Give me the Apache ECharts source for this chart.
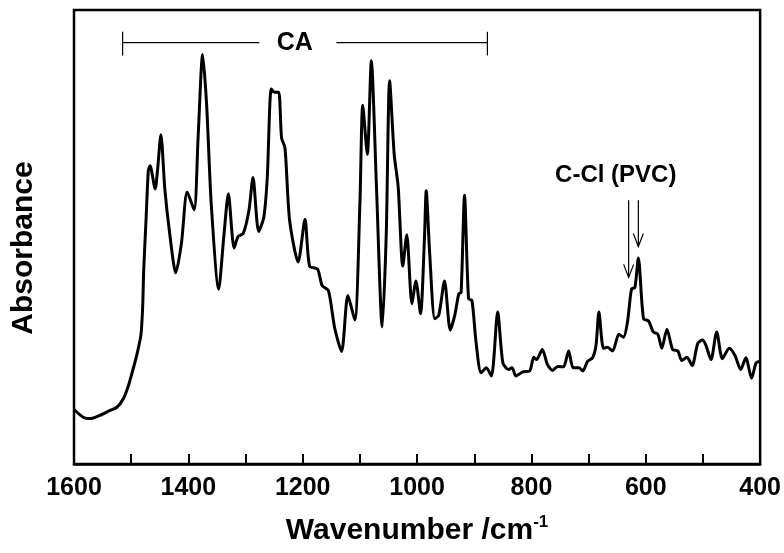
<!DOCTYPE html>
<html>
<head>
<meta charset="utf-8">
<script src="https://cdn.jsdelivr.net/npm/echarts@6/dist/echarts.min.js"></script>
<style>
  html, body { margin: 0; padding: 0; background: #fff; }
  #chart { width: 784px; height: 553px; }
</style>
</head>
<body>
<div id="chart"></div>
<script>
// FTIR spectrum: wavenumber (cm-1) and absorbance (arbitrary units)
const wavenumbers = [
  1600, 1584, 1572, 1555, 1537, 1525, 1514, 1505, 1496, 1490, 1483, 1480, 1478, 1474, 1470, 1467,
  1458, 1454, 1448, 1441, 1432, 1422, 1412, 1402, 1390, 1383, 1375, 1368, 1360, 1347, 1338, 1330,
  1320, 1313, 1304, 1294, 1287, 1277, 1268, 1262, 1255, 1249, 1242, 1237, 1231, 1223, 1208, 1196,
  1188, 1174, 1166, 1155, 1144, 1132, 1121, 1109, 1100, 1095, 1087, 1080, 1071, 1061, 1054, 1048,
  1040, 1033, 1025, 1018, 1009, 1002, 994, 987, 984, 978, 969, 962, 952, 942, 934, 927,
  923, 917, 910, 904, 897, 888, 879, 870, 859, 850, 840, 834, 827, 815, 803, 796,
  791, 781, 772, 763, 754, 744, 735, 727, 717, 710, 702, 693, 687, 682, 674, 667,
  658, 647, 639, 632, 625, 619, 613, 604, 595, 587, 579, 572, 563, 553, 544, 537,
  528, 519, 509, 501, 495, 486, 476, 466, 454, 444, 434, 425, 415, 407, 400
];
const absorbance = [
  12.0, 10.3, 10.0, 10.7, 11.8, 12.5, 14.3, 17.2, 21.2, 24.1, 28.4, 34.3, 43.0, 53.8, 64.6, 65.7,
  60.6, 64.6, 72.5, 60.3, 50.1, 42.1, 48.7, 59.9, 56.0, 71.8, 90.2, 79.0, 57.3, 38.5, 50.1, 59.5,
  47.6, 50.1, 50.8, 55.9, 63.1, 51.2, 54.4, 63.1, 82.6, 81.9, 81.9, 71.8, 69.6, 53.8, 44.5, 53.9,
  43.6, 42.9, 39.3, 38.2, 29.9, 24.8, 37.1, 31.7, 57.3, 79.0, 68.2, 88.8, 61.0, 30.2, 50.1, 84.4,
  68.2, 61.0, 43.6, 50.5, 35.3, 40.3, 33.1, 50.0, 60.2, 46.5, 32.0, 32.8, 40.3, 29.5, 32.8, 37.5,
  37.8, 59.2, 36.4, 36.0, 27.0, 20.1, 21.2, 19.4, 33.5, 22.3, 20.8, 21.2, 19.4, 20.3, 20.5, 23.5,
  23.0, 25.2, 21.9, 20.6, 21.5, 21.4, 24.9, 21.2, 21.2, 20.5, 22.6, 23.4, 26.2, 33.5, 25.5, 25.7,
  24.9, 28.6, 27.9, 31.3, 38.5, 38.9, 45.4, 32.0, 31.5, 29.1, 28.6, 25.5, 29.7, 25.2, 24.9, 22.8,
  23.5, 21.7, 26.6, 27.3, 26.2, 23.0, 29.1, 23.2, 25.5, 23.9, 20.8, 23.4, 18.9, 22.3, 22.6
];

// Band assignments
const caRange = [1515, 877];        // cellulose acetate region (bracket ends)
const caLabel = 'CA';
const pvcArrows = [630, 613];       // C-Cl stretching bands
const pvcLabel = 'C-Cl (PVC)';

const FONT = '"Liberation Sans", Arial, sans-serif';

const chart = echarts.init(document.getElementById('chart'), null, { renderer: 'canvas' });

function annotations(params, api) {
  const black = '#000';
  const thin = { stroke: black, lineWidth: 1.2 };
  const children = [];
  // CA bracket
  const yBar = 92.8;
  const pL = api.coord([caRange[0], yBar]);
  const pR = api.coord([caRange[1], yBar]);
  const gapL = api.coord([1276, yBar]);
  const gapR = api.coord([1141, yBar]);
  const capH1 = api.coord([caRange[0], 95.2])[1];
  const capH2 = api.coord([caRange[0], 90.0])[1];
  children.push({ type: 'line', shape: { x1: pL[0], y1: pL[1], x2: gapL[0], y2: gapL[1] }, style: thin });
  children.push({ type: 'line', shape: { x1: gapR[0], y1: gapR[1], x2: pR[0], y2: pR[1] }, style: thin });
  children.push({ type: 'line', shape: { x1: pL[0], y1: capH1, x2: pL[0], y2: capH2 }, style: thin });
  children.push({ type: 'line', shape: { x1: pR[0], y1: capH1, x2: pR[0], y2: capH2 }, style: thin });
  const caPos = api.coord([1214, yBar]);
  children.push({
    type: 'text',
    style: { text: caLabel, x: caPos[0], y: caPos[1], font: 'bold 25px ' + FONT,
             textAlign: 'center', textVerticalAlign: 'middle', verticalAlign: 'middle', fill: black }
  });
  // C-Cl arrows
  const tips = [41.1, 47.9];
  pvcArrows.forEach(function (wn, i) {
    const top = api.coord([wn, 58.1]);
    const tip = api.coord([wn, tips[i]]);
    children.push({ type: 'line', shape: { x1: top[0], y1: top[1], x2: tip[0], y2: tip[1] }, style: thin });
    children.push({ type: 'polyline', shape: { points: [[tip[0] - 5, tip[1] - 13], [tip[0], tip[1]], [tip[0] + 5, tip[1] - 13]] },
                    style: { stroke: black, lineWidth: 1.2, fill: null } });
  });
  const pvcPos = api.coord([652.5, 63.5]);
  children.push({
    type: 'text',
    style: { text: pvcLabel, x: pvcPos[0], y: pvcPos[1], font: 'bold 24px ' + FONT,
             textAlign: 'center', textVerticalAlign: 'middle', verticalAlign: 'middle', fill: black }
  });
  return { type: 'group', children: children };
}

chart.setOption({
  animation: false,
  backgroundColor: '#fff',
  grid: { left: 74, right: 23, top: 10, bottom: 82, show: true, borderColor: '#000', borderWidth: 2.5, backgroundColor: 'transparent' },
  xAxis: {
    type: 'value', min: 400, max: 1600, interval: 100, inverse: true,
    name: 'Wavenumber /cm{sup|-1}', nameLocation: 'middle', nameGap: 50,
    nameTextStyle: {
      fontFamily: FONT, fontWeight: 'bold', fontSize: 30, color: '#000', lineHeight: 34,
      rich: { sup: { fontFamily: FONT, fontWeight: 'bold', fontSize: 17, lineHeight: 18, verticalAlign: 'top', color: '#000' } }
    },
    axisLine: { show: true, lineStyle: { color: '#000', width: 2.5 } },
    axisTick: { show: true, inside: true, length: 10, lineStyle: { color: '#000', width: 2 } },
    axisLabel: {
      margin: 12, fontFamily: FONT, fontWeight: 'bold', fontSize: 25, color: '#000',
      formatter: function (v) { return v % 200 === 0 ? String(v) : ''; }
    },
    splitLine: { show: false }
  },
  yAxis: {
    type: 'value', min: 0, max: 100,
    name: 'Absorbance', nameLocation: 'middle', nameGap: 35,
    nameTextStyle: { fontFamily: FONT, fontWeight: 'bold', fontSize: 30, color: '#000', padding: [0, 22, 0, 0] },
    axisLine: { show: false }, axisTick: { show: false }, axisLabel: { show: false }, splitLine: { show: false }
  },
  series: [
    {
      type: 'line',
      data: wavenumbers.map(function (w, i) { return [w, absorbance[i]]; }),
      showSymbol: false, symbol: 'none', smooth: 0.25,
      lineStyle: { color: '#000', width: 3 },
      silent: true
    },
    {
      type: 'custom',
      data: [[1000, 50]],
      renderItem: annotations,
      silent: true,
      z: 5
    }
  ]
});
</script>
</body>
</html>
